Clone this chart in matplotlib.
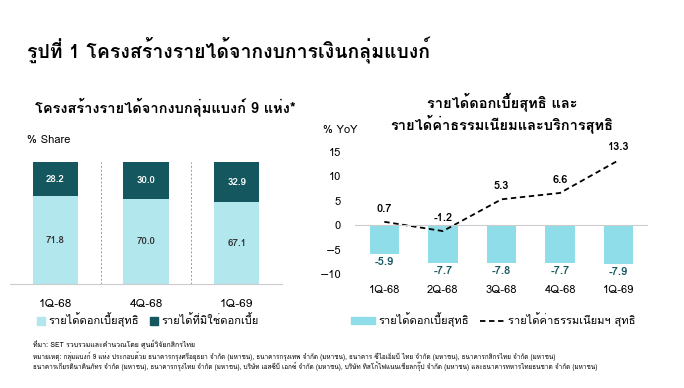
import matplotlib
matplotlib.use("Agg")
import matplotlib.pyplot as plt
from matplotlib import font_manager
from matplotlib.ft2font import FT2Font
from matplotlib.patches import Patch
from matplotlib.lines import Line2D

# find an installed family that has Thai glyphs
thai_fams = []
for f in font_manager.fontManager.ttflist:
    try:
        if 0x0E01 in FT2Font(f.fname).get_charmap() and f.name not in thai_fams:
            thai_fams.append(f.name)
    except Exception:
        pass
plt.rcParams['font.family'] = thai_fams[:1] + ['DejaVu Sans']

# data
share_quarters = ["1Q-68", "4Q-68", "1Q-69"]
share_interest = [71.8, 70.0, 67.1]
share_noninterest = [28.2, 30.0, 32.9]

yoy_quarters = ["1Q-68", "2Q-68", "3Q-68", "4Q-68", "1Q-69"]
yoy_nii = [-5.9, -7.7, -7.8, -7.7, -7.9]
yoy_fee = [0.7, -1.2, 5.3, 6.6, 13.3]

light = "#b3e7ee"
dark = "#14575f"
cyan = "#8fdde8"

W, H = 684, 388
fig = plt.figure(figsize=(W / 100, H / 100), dpi=100)

def box(x0, y0, x1, y1):
    return [x0 / W, 1 - y1 / H, (x1 - x0) / W, (y1 - y0) / H]

fig.text(27 / W, 1 - 50 / H, "รูปที่ 1 โครงสร้างรายได้จากงบการเงินกลุ่มแบงก์",
         fontsize=14, fontweight="bold", va="center")

# left chart
ax1 = fig.add_axes(box(10, 162, 282, 284))
x = range(len(share_quarters))
ax1.bar(x, share_interest, width=0.5, color=light)
ax1.bar(x, share_noninterest, width=0.5, bottom=share_interest, color=dark)
for i in x:
    ax1.text(i, share_interest[i] / 2, f"{share_interest[i]:.1f}", ha="center", va="center",
             fontsize=7, fontweight="bold", color="#333333")
    ax1.text(i, share_interest[i] + share_noninterest[i] / 2, f"{share_noninterest[i]:.1f}",
             ha="center", va="center", fontsize=7, fontweight="bold", color="white")
for sep in [0.5, 1.5]:
    ax1.axvline(sep, color="#999999", lw=0.7, ls=(0, (2, 2)))
ax1.set_xlim(-0.5, 2.5)
ax1.set_ylim(0, 100)
ax1.set_xticks(list(x))
ax1.set_xticklabels(share_quarters, fontsize=8.5)
ax1.tick_params(axis="x", length=0, pad=11)
ax1.set_yticks([])
for s in ["top", "right", "left"]:
    ax1.spines[s].set_visible(False)
ax1.spines["bottom"].set_color("#cccccc")
fig.text(165 / W, 1 - 107 / H, "โครงสร้างรายได้จากงบกลุ่มแบงก์ 9 แห่ง*", ha="center",
         va="center", fontsize=10.5, fontweight="bold")
fig.text(27 / W, 1 - 140 / H, "% Share", fontsize=8, va="center")
fig.legend(handles=[Patch(color=light, label="รายได้ดอกเบี้ยสุทธิ"),
                    Patch(color=dark, label="รายได้ที่มิใช่ดอกเบี้ย")],
           loc="center", bbox_to_anchor=(148 / W, 1 - 320 / H), ncol=2, frameon=False,
           fontsize=8, handlelength=0.7, handleheight=0.7, handletextpad=0.3, columnspacing=1.0)

# right chart
ax2 = fig.add_axes(box(355, 147, 648, 279))
xi = range(len(yoy_quarters))
ax2.bar(xi, yoy_nii, width=0.5, color=cyan)
ax2.plot(xi, yoy_fee, color="black", ls=(0, (3, 2)), lw=1.3)
for i in xi:
    ax2.text(i, yoy_nii[i] - 0.6, f"{yoy_nii[i]:.1f}", ha="center", va="top",
             fontsize=8, fontweight="bold", color=dark)
    ax2.text(i, yoy_fee[i] + 1.6, f"{yoy_fee[i]:.1f}", ha="center",
             va="bottom", fontsize=8, fontweight="bold", color="black")
ax2.axhline(0, color="#cccccc", lw=0.8)
ax2.set_xlim(-0.5, 4.5)
ax2.set_ylim(-11, 16)
ax2.set_yticks([-10, -5, 0, 5, 10, 15])
ax2.set_xticks(list(xi))
ax2.set_xticklabels(yoy_quarters, fontsize=8)
ax2.tick_params(axis="both", length=0, labelsize=8)
ax2.tick_params(axis="x", pad=4)
ax2.tick_params(axis="y", pad=10)
for s in ax2.spines.values():
    s.set_visible(False)
fig.text(502 / W, 1 - 113 / H, "รายได้ดอกเบี้ยสุทธิ และ\nรายได้ค่าธรรมเนียมและบริการสุทธิ",
         ha="center", va="center", fontsize=10.5, fontweight="bold", linespacing=1.2)
fig.text(323 / W, 1 - 130 / H, "% YoY", fontsize=8, va="center")
fig.legend(handles=[Patch(color=cyan, label="รายได้ดอกเบี้ยสุทธิ"),
                    Line2D([], [], color="black", ls=(0, (3, 2)), lw=1.3,
                           label="รายได้ค่าธรรมเนียมฯ สุทธิ")],
           loc="center", bbox_to_anchor=(493 / W, 1 - 320 / H), ncol=2, frameon=False,
           fontsize=8, handlelength=2.2, handleheight=0.6, handletextpad=0.3, columnspacing=1.0)

# notes
fig.text(33 / W, 1 - 345 / H, "ที่มา: SET รวบรวมและคำนวณโดย ศูนย์วิจัยกสิกรไทย", fontsize=5, va="center")
fig.text(33 / W, 1 - 356 / H,
         "หมายเหตุ: กลุ่มแบงก์ 9 แห่ง ประกอบด้วย ธนาคารกรุงศรีอยุธยา จำกัด (มหาชน), ธนาคารกรุงเทพ จำกัด (มหาชน), "
         "ธนาคาร ซีไอเอ็มบี ไทย จำกัด (มหาชน), ธนาคารกสิกรไทย จำกัด (มหาชน)", fontsize=4.6, va="center")
fig.text(33 / W, 1 - 366 / H,
         "ธนาคารเกียรตินาคินภัทร จำกัด (มหาชน), ธนาคารกรุงไทย จำกัด (มหาชน), บริษัท เอสซีบี เอกซ์ จำกัด (มหาชน), "
         "บริษัท ทิสโก้ไฟแนนเชียลกรุ๊ป จำกัด (มหาชน) และธนาคารทหารไทยธนชาต จำกัด (มหาชน)", fontsize=4.6, va="center")

fig.savefig("out.png", dpi=100)
